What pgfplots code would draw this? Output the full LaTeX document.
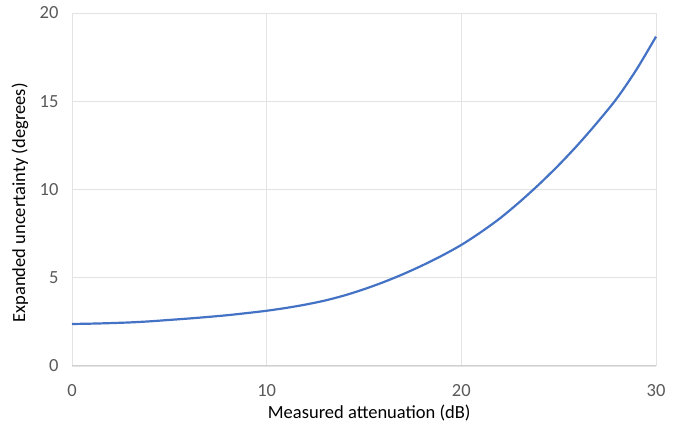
\documentclass[border=0pt]{standalone}
\usepackage{fontspec}
\setmainfont{Carlito}
\usepackage{pgfplots}
\pgfplotsset{compat=1.18}
\definecolor{lineblue}{HTML}{4472C4}
\definecolor{gridgray}{HTML}{E3E3E3}
\definecolor{axisgray}{HTML}{D0D0D0}
\definecolor{ticktext}{HTML}{595959}
\begin{document}
\begin{tikzpicture}
\begin{axis}[
  scale only axis,
  width=584pt, height=353pt,
  xmin=0, xmax=30, ymin=0, ymax=20,
  xtick={0,10,20,30}, ytick={0,5,10,15,20},
  grid=major,
  major grid style={draw=gridgray, line width=0.8pt},
  axis x line*=bottom, axis y line*=left,
  x axis line style={draw=axisgray, line width=1pt, -},
  y axis line style={draw=none},
  major tick length=0pt,
  tick style={draw=none},
  /pgf/number format/assume math mode=true,
  ticklabel style={font=\fontsize{18.5}{20}\selectfont, text=ticktext},
  xticklabel style={anchor=center, yshift=-25pt},
  yticklabel style={anchor=east, xshift=-10pt},
  xlabel={Measured attenuation (dB)},
  ylabel={Expanded uncertainty (degrees)},
  label style={font=\fontsize{18.5}{20}\selectfont},
  xlabel style={at={(axis description cs:0.509,-0.133)}, anchor=center},
  ylabel style={at={(axis description cs:-0.089,0.462)}, anchor=center, rotate=0},
  clip=false,
]
\coordinate (O) at (rel axis cs:0,0);
\addplot[color=lineblue, line width=2.2pt, smooth] coordinates {
(0,2.38) (1,2.40) (2,2.43) (3,2.47) (4,2.53) (5,2.61) (6,2.69) (7,2.78)
(8,2.88) (9,3.00) (10,3.13) (11,3.29) (12,3.48) (13,3.71) (14,4.00)
(15,4.35) (16,4.75) (17,5.20) (18,5.70) (19,6.25) (20,6.86) (21,7.58)
(22,8.38) (23,9.30) (24,10.30) (25,11.38) (26,12.55) (27,13.82)
(28,15.18) (29,16.80) (30,18.66)
};
\end{axis}
\pgfresetboundingbox
\path[use as bounding box] ([shift={(-72pt,-64pt)}]O) rectangle ([shift={(622pt,366pt)}]O);
\end{tikzpicture}
\end{document}
